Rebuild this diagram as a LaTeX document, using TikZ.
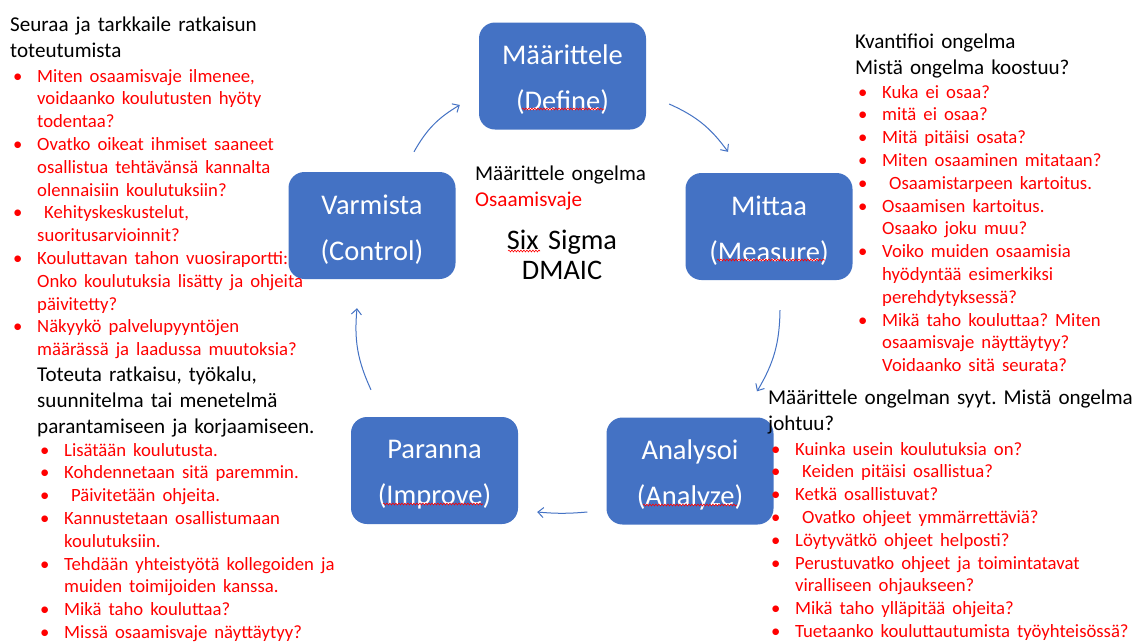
\documentclass[tikz,border=0pt]{standalone}
\usepackage{fontspec}
\setmainfont{Carlito}
\usetikzlibrary{arrows.meta,decorations.pathmorphing}
\definecolor{dmaicblue}{HTML}{4472C4}
\definecolor{punainen}{HTML}{FF0000}

% bullet with hanging indent
\newcommand{\kohta}{\par\hangindent=27pt\hangafter=1\noindent\makebox[27pt][l]{\hspace{3pt}\textbullet}}
\newcommand{\listafont}{\color{punainen}\fontsize{18.7}{22.8}\selectfont}

\begin{document}
\frenchspacing
\begin{tikzpicture}[x=1pt,y=-1pt,
  phase/.style={fill=dmaicblue, rounded corners=16pt, minimum width=167pt, minimum height=107pt,
    text=white, text width=160pt, align=center, inner sep=0pt, font=\fontsize{28.5}{46}\selectfont},
  flow/.style={draw=dmaicblue, line width=1pt, -{Straight Barb[length=5.5pt,width=10pt]}},
  notes/.style={anchor=base west, inner sep=0pt, align=left, font=\fontsize{21.1}{26}\selectfont},
  spell/.style={draw=punainen, line width=0.6pt, decorate, decoration={snake,amplitude=0.9pt,segment length=3pt}}]
\useasboundingbox (0,0) rectangle (1136,641);
\fill[white] (0,0) rectangle (1136,641);

% DMAIC phases
\node[phase] (maar) at (562.5,76) {\rule{0pt}{27pt}Määrittele\\(Define)};
\node[phase] (mitt) at (769,226.5) {\rule{0pt}{27pt}Mittaa\\(Measure)};
\node[phase] (anal) at (690,471) {\rule{0pt}{27pt}Analysoi\\(Analyze)};
\node[phase] (para) at (434.5,470.5) {\rule{0pt}{27pt}Paranna\\(Improve)};
\node[phase] (varm) at (372,225.5) {\rule{0pt}{27pt}Varmista\\(Control)};

\draw[flow] ([xshift=42pt,yshift=20pt]varm.north) to[bend left=15] ([xshift=-19pt,yshift=-29pt]maar.west);
\draw[flow] ([xshift=23pt,yshift=-28pt]maar.east) to[bend left=15] ([xshift=-41pt,yshift=21pt]mitt.north);
\draw[flow] ([xshift=11pt,yshift=-30pt]mitt.south) to[bend left=15] ([xshift=67pt,yshift=26pt]anal.north);
\draw[flow] ([xshift=-19pt,yshift=-41pt]anal.west) to[bend left=5] ([xshift=19pt,yshift=-41.5pt]para.east);
\draw[flow] ([xshift=-63.5pt,yshift=27pt]para.north) to[bend left=15] ([xshift=-15pt,yshift=-29pt]varm.south);

% middle
\node[notes, text width=200pt] (ong) at (475,180) {Määrittele ongelma\newline\textcolor{punainen}{Osaamisvaje}};
\node[anchor=base, inner sep=0pt, text width=200pt, align=center, font=\fontsize{28.3}{30}\selectfont] (six) at (562,249) {Six Sigma\\DMAIC};

% spell check marks
\draw[spell] ([xshift=-40.5pt,yshift=-33pt]maar.center) -- ++(82,0);
\draw[spell] ([xshift=-52pt,yshift=-33.5pt]mitt.center) -- ++(108,0);
\draw[spell] ([xshift=-47pt,yshift=-34pt]anal.center) -- ++(94,0);
\draw[spell] ([xshift=-51.5pt,yshift=-33.5pt]para.center) -- ++(100,0);
\draw[spell] ([xshift=-54pt,yshift=-2pt]six.base) -- ++(32,0);

% notes
\node[notes, text width=330pt] (seur) at (10,31) {Seuraa ja tarkkaile ratkaisun\newline toteutumista\par
  \vspace{2.2pt}\listafont
  \kohta Miten osaamisvaje ilmenee,\newline voidaanko koulutusten hyöty\newline todentaa?
  \kohta Ovatko oikeat ihmiset saaneet\newline osallistua tehtävänsä kannalta\newline olennaisiin koulutuksiin?
  \kohta\ Kehityskeskustelut,\newline suoritusarvioinnit?
  \kohta Kouluttavan tahon vuosiraportti:\newline Onko koulutuksia lisätty ja ohjeita\newline päivitetty?
  \kohta Näkyykö palvelupyyntöjen\newline määrässä ja laadussa muutoksia?\par};

\node[notes, text width=290pt] (kvan) at (855,48) {Kvantifioi ongelma\newline Mistä ongelma koostuu?\par
  \vspace{1.2pt}\listafont
  \kohta Kuka ei osaa?
  \kohta mitä ei osaa?
  \kohta Mitä pitäisi osata?
  \kohta Miten osaaminen mitataan?
  \kohta\ Osaamistarpeen kartoitus.
  \kohta Osaamisen kartoitus.\newline Osaako joku muu?
  \kohta Voiko muiden osaamisia\newline hyödyntää esimerkiksi\newline perehdytyksessä?
  \kohta Mikä taho kouluttaa? Miten\newline osaamisvaje näyttäytyy?\newline Voidaanko sitä seurata?\par};

\node[notes, text width=375pt] (syyt) at (768,404) {Määrittele ongelman syyt. Mistä ongelma\newline johtuu?\par
  \vspace{2.2pt}\listafont
  \kohta Kuinka usein koulutuksia on?
  \kohta\ Keiden pitäisi osallistua?
  \kohta Ketkä osallistuvat?
  \kohta\ Ovatko ohjeet ymmärrettäviä?
  \kohta Löytyvätkö ohjeet helposti?
  \kohta Perustuvatko ohjeet ja toimintatavat\newline viralliseen ohjaukseen?
  \kohta Mikä taho ylläpitää ohjeita?
  \kohta Tuetaanko kouluttautumista työyhteisössä?\par};

\node[notes, text width=320pt] (tote) at (37,381) {Toteuta ratkaisu, työkalu,\newline suunnitelma tai menetelmä\newline parantamiseen ja korjaamiseen.\par
  \vspace{0.2pt}\listafont
  \kohta Lisätään koulutusta.
  \kohta Kohdennetaan sitä paremmin.
  \kohta\ Päivitetään ohjeita.
  \kohta Kannustetaan osallistumaan\newline koulutuksiin.
  \kohta Tehdään yhteistyötä kollegoiden ja\newline muiden toimijoiden kanssa.
  \kohta Mikä taho kouluttaa?
  \kohta Missä osaamisvaje näyttäytyy?\par};
\end{tikzpicture}
\end{document}
